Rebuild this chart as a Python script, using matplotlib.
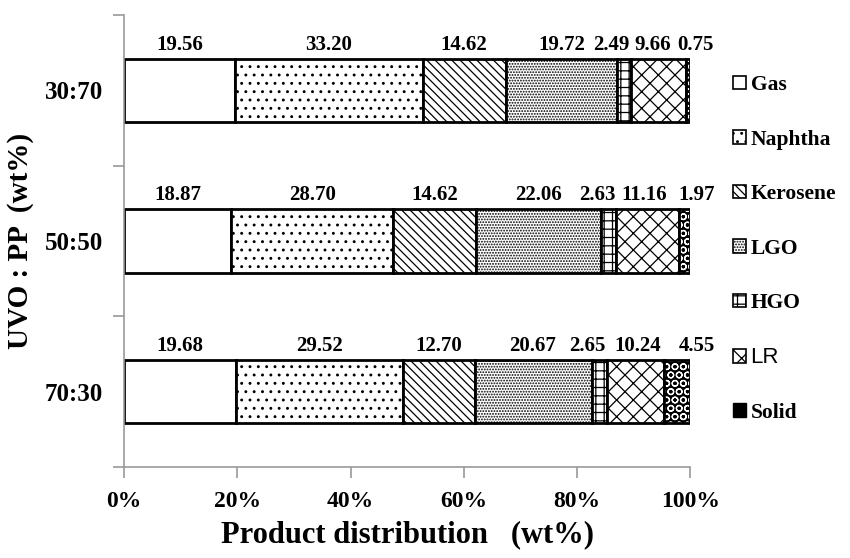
import numpy as np
import matplotlib
matplotlib.use('Agg')
import matplotlib.pyplot as plt
from matplotlib.patches import Patch

plt.rcParams['font.family'] = ['Liberation Serif', 'DejaVu Serif']
plt.rcParams['hatch.linewidth'] = 0.9

# data (wt%)
ratios = ['30:70', '50:50', '70:30']
products = ['Gas', 'Naphtha', 'Kerosene', 'LGO', 'HGO', 'LR', 'Solid']
gas      = [19.56, 18.87, 19.68]
naphtha  = [33.20, 28.70, 29.52]
kerosene = [14.62, 14.62, 12.70]
lgo      = [19.72, 22.06, 20.67]
hgo      = [2.49, 2.63, 2.65]
lr       = [9.66, 11.16, 10.24]
solid    = [0.75, 1.97, 4.55]

series = [gas, naphtha, kerosene, lgo, hgo, lr, solid]
hatches = [None, '..', '\\\\\\\\', '......', '++', 'xx', 'OO']
# label nudges (points) per row for the thin segments, labels were placed by hand
nudge = {'HGO': [-9.4, -8, -8.6], 'LR': [-4.3, -2.2, 1.4], 'Solid': [5, 8.6, 13.7]}

fig = plt.figure(figsize=(8.5, 5.58), dpi=100)
ax = fig.add_axes([0.146, 0.163, 0.666, 0.81])

y = np.arange(len(ratios)) + 0.5
h = 0.42
left = np.zeros(len(ratios))
handles = []
for name, vals, hat in zip(products, series, hatches):
    vals = np.array(vals)
    if name == 'Solid':
        ax.barh(y, vals, h, left=left, color='black', hatch=hat,
                edgecolor='white', linewidth=0)
        ax.barh(y, vals, h, left=left, fill=False, edgecolor='black', linewidth=2)
        handles.append(Patch(facecolor='black', edgecolor='black', label=name))
    else:
        ax.barh(y, vals, h, left=left, color='white', hatch=hat,
                edgecolor='black', linewidth=2)
        handles.append(Patch(facecolor='white', edgecolor='black', hatch=hat,
                             linewidth=1.2, label=name))
    dxs = nudge.get(name, [0, 0, 0])
    for yi, l, v, dx in zip(y, left, vals, dxs):
        ax.annotate(f'{v:.2f}', (l + v / 2, yi - h / 2), xytext=(dx, 3),
                    textcoords='offset points', ha='center', va='bottom',
                    fontsize=15, fontweight='bold')
    left = left + vals

ax.set_xlim(0, 100)
ax.set_ylim(3, 0)
ax.set_xticks(np.arange(0, 101, 20))
ax.set_xticklabels([f'{t}%' for t in range(0, 101, 20)], fontsize=17, fontweight='bold')
ax.set_yticks([0, 1, 2, 3])
ax.set_yticklabels([])
ax.set_yticks(y, minor=True)
ax.set_yticklabels(ratios, minor=True, fontsize=18, fontweight='bold')
ax.tick_params(axis='y', which='minor', length=0, pad=15)
ax.tick_params(axis='both', which='major', length=8, color='#999999', width=1.2)
ax.tick_params(axis='x', pad=9)
for s in ['top', 'right']:
    ax.spines[s].set_visible(False)
for s in ['left', 'bottom']:
    ax.spines[s].set_color('#999999')
    ax.spines[s].set_linewidth(1.2)

ax.set_xlabel('Product distribution   (wt%)', fontsize=22, fontweight='bold', labelpad=6)
ax.set_ylabel('UVO : PP  (wt%)', fontsize=21, fontweight='bold', labelpad=8)

leg = fig.legend(handles=handles, loc='upper left', bbox_to_anchor=(0.84, 0.9),
                 frameon=False, handlelength=0.6, handleheight=0.6, handletextpad=0.2,
                 labelspacing=1.6, prop={'weight': 'bold', 'size': 15.5})
for t in leg.get_texts():
    if t.get_text() == 'LR':
        t.set_family(['Liberation Sans', 'DejaVu Sans'])
        t.set_fontweight('normal')
        t.set_fontsize(16)

fig.savefig('out.png', dpi=100)
